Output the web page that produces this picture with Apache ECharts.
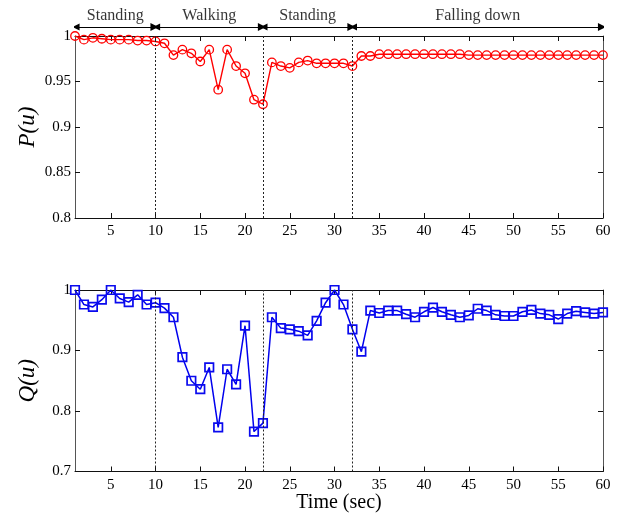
<!DOCTYPE html>
<html>
<head>
<meta charset="utf-8">
<title>P(u) / Q(u)</title>
<script src="https://cdn.jsdelivr.net/npm/echarts@6/dist/echarts.min.js"></script>
<style>
  html, body { margin: 0; padding: 0; background: #fff; }
  #chart { width: 624px; height: 516px; }
</style>
</head>
<body>
<div id="chart"></div>
<script>
// activity phases shown above the top plot
const phaseNames = ['Standing', 'Walking', 'Standing', 'Falling down'];
const phaseStart = [1, 10, 22, 32];
const phaseEnd = [10, 22, 32, 60];
// phase boundaries (dashed lines)
const boundaries = [10, 22, 32];

const timeSec = [];
for (let t = 1; t <= 60; t++) timeSec.push(t);

const pValues = [
  1.000, 0.996, 0.998, 0.997, 0.996, 0.996, 0.996, 0.995, 0.995, 0.994,
  0.992, 0.979, 0.985, 0.981, 0.972, 0.985, 0.941, 0.985, 0.967, 0.959,
  0.930, 0.925, 0.971, 0.967, 0.965, 0.971, 0.973, 0.970, 0.970, 0.970,
  0.970, 0.967, 0.978, 0.978, 0.980, 0.980, 0.980, 0.980, 0.980, 0.980,
  0.980, 0.980, 0.980, 0.980, 0.979, 0.979, 0.979, 0.979, 0.979, 0.979,
  0.979, 0.979, 0.979, 0.979, 0.979, 0.979, 0.979, 0.979, 0.979, 0.979
];

const qValues = [
  1.000, 0.976, 0.972, 0.984, 1.000, 0.986, 0.980, 0.992, 0.976, 0.979,
  0.970, 0.955, 0.889, 0.850, 0.836, 0.872, 0.773, 0.869, 0.844, 0.941,
  0.766, 0.780, 0.955, 0.937, 0.935, 0.932, 0.925, 0.949, 0.979, 1.000,
  0.976, 0.935, 0.898, 0.966, 0.962, 0.966, 0.966, 0.960, 0.955, 0.964,
  0.971, 0.964, 0.959, 0.955, 0.958, 0.969, 0.966, 0.959, 0.957, 0.957,
  0.964, 0.967, 0.961, 0.959, 0.952, 0.961, 0.965, 0.963, 0.961, 0.963
];

const xTicks = [5, 10, 15, 20, 25, 30, 35, 40, 45, 50, 55, 60];

const font = 'Liberation Serif';
const left = 75, right = 21;

const pData = timeSec.map((t, i) => [t, pValues[i]]);
const qData = timeSec.map((t, i) => [t, qValues[i]]);

const arrowData = phaseNames.map((n, i) => ({
  coords: [[phaseStart[i] + 0.12, 0.25], [phaseEnd[i] - 0.12, 0.25]]
}));
const phaseLabelData = phaseNames.map((n, i) => ({
  name: n,
  value: [(phaseStart[i] + phaseEnd[i]) / 2, 0.57]
}));

const boundaryLines = {
  silent: true,
  symbol: 'none',
  label: { show: false },
  lineStyle: { type: [2, 2], color: '#222', width: 1 },
  emphasis: { disabled: true },
  data: boundaries.map(b => ({ xAxis: b }))
};

function xAx(gridIndex, position, labels, name) {
  return {
    type: 'value',
    gridIndex: gridIndex,
    position: position,
    min: 1,
    max: 60,
    name: name || '',
    nameLocation: 'middle',
    nameGap: 21,
    nameMoveOverlap: false,
    nameTextStyle: { fontFamily: font, fontSize: 20, color: '#000' },
    axisLine: { show: true, onZero: false, lineStyle: { color: '#111', width: 1 } },
    axisTick: { show: true, inside: true, length: 5, customValues: xTicks, lineStyle: { color: '#111' } },
    axisLabel: {
      show: labels, customValues: xTicks, margin: 6,
      fontFamily: font, fontSize: 15, color: '#000'
    },
    splitLine: { show: false }
  };
}

function yAx(gridIndex, position, min, interval, labels, name) {
  return {
    type: 'value',
    gridIndex: gridIndex,
    position: position,
    min: min,
    max: 1,
    interval: interval,
    name: name || '',
    nameLocation: 'middle',
    nameRotate: 90,
    nameGap: 36,
    nameMoveOverlap: false,
    nameTextStyle: { fontFamily: font, fontSize: 23, fontStyle: 'italic', color: '#000' },
    axisLine: { show: true, onZero: false, lineStyle: { color: '#555', width: 1 } },
    axisTick: { show: true, inside: true, length: 5, lineStyle: { color: '#111' } },
    axisLabel: { show: labels, margin: 4, fontFamily: font, fontSize: 15, color: '#000' },
    splitLine: { show: false }
  };
}

const chart = echarts.init(document.getElementById('chart'), null, { renderer: 'canvas' });

const option = {
  animation: false,
  backgroundColor: '#fff',
  grid: [
    { left: left, right: right, top: 0, height: 36 },
    { left: left, right: right, top: 36, height: 182 },
    { left: left, right: right, top: 290, height: 181.5 }
  ],
  xAxis: [
    { type: 'value', gridIndex: 0, min: 1, max: 60, show: false },
    xAx(1, 'bottom', true),
    xAx(1, 'top', false),
    xAx(2, 'bottom', true, 'Time (sec)'),
    xAx(2, 'top', false)
  ],
  yAxis: [
    { type: 'value', gridIndex: 0, min: 0, max: 1, show: false },
    yAx(1, 'left', 0.8, 0.05, true, 'P(u)'),
    yAx(1, 'right', 0.8, 0.05, false),
    yAx(2, 'left', 0.7, 0.1, true, 'Q(u)'),
    yAx(2, 'right', 0.7, 0.1, false)
  ],
  series: [
    {
      type: 'lines',
      coordinateSystem: 'cartesian2d',
      xAxisIndex: 0,
      yAxisIndex: 0,
      silent: true,
      symbol: ['triangle', 'triangle'],
      symbolSize: [7, 8],
      lineStyle: { color: '#000', width: 1, opacity: 1 },
      data: arrowData
    },
    {
      type: 'scatter',
      xAxisIndex: 0,
      yAxisIndex: 0,
      symbolSize: 0,
      silent: true,
      label: {
        show: true,
        position: 'inside',
        formatter: p => p.name,
        fontFamily: font,
        fontSize: 16,
        color: '#000'
      },
      data: phaseLabelData
    },
    {
      name: 'P(u)',
      type: 'line',
      xAxisIndex: 1,
      yAxisIndex: 1,
      data: pData,
      symbol: 'circle',
      symbolSize: 8.5,
      showAllSymbol: true,
      lineStyle: { color: '#ff0000', width: 1.4 },
      itemStyle: { color: 'rgba(255,255,255,0)', borderColor: '#ff0000', borderWidth: 1.3 },
      markLine: boundaryLines
    },
    {
      name: 'Q(u)',
      type: 'line',
      xAxisIndex: 3,
      yAxisIndex: 3,
      data: qData,
      symbol: 'rect',
      symbolSize: 8.5,
      showAllSymbol: true,
      lineStyle: { color: '#0000ee', width: 1.5 },
      itemStyle: { color: 'rgba(255,255,255,0)', borderColor: '#0a0aee', borderWidth: 1.7 },
      markLine: boundaryLines
    }
  ]
};

chart.setOption(option);
</script>
</body>
</html>
